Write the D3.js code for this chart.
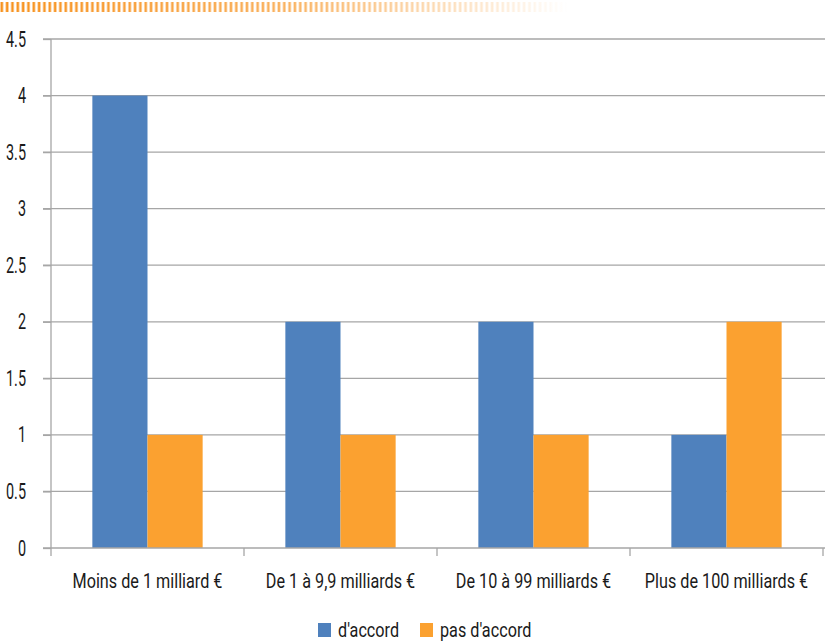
<!DOCTYPE html>
<html><head><meta charset="utf-8">
<script src="https://cdn.jsdelivr.net/npm/d3@7"></script>
<style>
body{margin:0;background:#fff;}
text{font-family:Roboto,"DejaVu Sans",sans-serif;font-weight:400;fill:#1a1a1a;}
</style></head>
<body><svg id="c" width="825" height="643"></svg>
<script>
const categories = ["Moins de 1 milliard €","De 1 à 9,9 milliards €","De 10 à 99 milliards €","Plus de 100 milliards €"];
const seriesNames = ["d'accord","pas d'accord"];
const accord = [4,2,2,1];
const pasAccord = [1,1,1,2];
const yTicks = [0,0.5,1,1.5,2,2.5,3,3.5,4,4.5];
const yTickLabels = ["0","0.5","1","1.5","2","2.5","3","3.5","4","4.5"];
const colors = ["#4F81BD","#FBA130"];

const svg = d3.select("#c");
const mL=51,mR=823,mT=39,mB=548;
const gridCol="#A6A6A6";

function measure(txt,size){
  const t=svg.append("text").attr("font-size",size).text(txt);
  const w=t.node().getComputedTextLength(); t.remove(); return w;
}
const catSize=21, tickSize=21.5;
const sqCat = 150/measure(categories[0],catSize);
const sqTick = 20/measure("4.5",tickSize);
function ctext(sel,x,y,anchor,size,sq,txt){
  return sel.append("text").attr("transform",`translate(${x},${y}) scale(${sq},1)`)
    .attr("text-anchor",anchor).attr("font-size",size).text(txt);
}

// decorative stripes at top
const defs = svg.append("defs");
const grad = defs.append("linearGradient").attr("id","fade").attr("x1","0").attr("x2","1");
grad.append("stop").attr("offset","0").attr("stop-color","#F7921E").attr("stop-opacity",1);
grad.append("stop").attr("offset","0.5").attr("stop-color","#F7921E").attr("stop-opacity",0.7);
grad.append("stop").attr("offset","1").attr("stop-color","#F7921E").attr("stop-opacity",0);
const pat = defs.append("pattern").attr("id","stripes").attr("patternUnits","userSpaceOnUse").attr("width",5.33).attr("height",20);
pat.append("rect").attr("x",0.5).attr("y",0).attr("width",2.6).attr("height",20).attr("fill","#fff");
const mask = defs.append("mask").attr("id","m");
mask.append("rect").attr("x",0).attr("y",0).attr("width",568).attr("height",14).attr("fill","url(#stripes)");
svg.append("rect").attr("x",0).attr("y",2).attr("width",568).attr("height",10).attr("fill","url(#fade)").attr("mask","url(#m)");

const x0 = d3.scaleBand().domain(categories).range([mL,mR]).paddingInner(0).paddingOuter(0);
const y = d3.scaleLinear().domain([0,4.5]).range([mB,mT]);
const bw = x0.bandwidth()/(2+1.5);
const x1 = d3.scaleBand().domain(seriesNames).range([bw*0.75, bw*0.75+2*bw]);

// gridlines
svg.append("g").selectAll("line").data(yTicks.filter(d=>d>0)).join("line")
  .attr("x1",mL-8).attr("x2",mR+2).attr("y1",d=>y(d)).attr("y2",d=>y(d))
  .attr("stroke",gridCol).attr("stroke-width",1.3);

// bars
const g = svg.append("g");
const data = categories.map((c,i)=>({c, vals:[accord[i],pasAccord[i]]}));
g.selectAll("g").data(data).join("g").attr("transform",d=>`translate(${x0(d.c)},0)`)
  .selectAll("rect").data(d=>d.vals.map((v,j)=>({v,s:seriesNames[j],j}))).join("rect")
  .attr("x",d=>x1(d.s)).attr("width",x1.bandwidth()).attr("y",d=>y(d.v)).attr("height",d=>y(0)-y(d.v))
  .attr("fill",d=>colors[d.j]);

// y axis
const yAxis = d3.axisLeft(y).tickValues(yTicks).tickFormat("").tickSize(8);
const ya = svg.append("g").attr("transform",`translate(${mL},0)`).call(yAxis);
ya.select(".domain").attr("stroke",gridCol).attr("stroke-width",1.3).attr("d",`M0,${mT}V${mB}`);
ya.selectAll(".tick line").attr("stroke",gridCol).attr("stroke-width",1.3);
const yl = svg.append("g");
yTicks.forEach((d,i)=>ctext(yl,26,y(d)+7.5,"end",tickSize,sqTick,yTickLabels[i]));

// x axis
const xa = svg.append("g").attr("transform",`translate(0,${mB})`);
xa.append("line").attr("x1",mL-8).attr("x2",mR+2).attr("y1",0).attr("y2",0).attr("stroke",gridCol).attr("stroke-width",1.3);
const bounds = categories.map(c=>x0(c)).concat([x0(categories[3])+x0.bandwidth()]);
xa.selectAll("line.t").data(bounds).join("line").attr("class","t")
  .attr("x1",d=>d).attr("x2",d=>d).attr("y1",0).attr("y2",8).attr("stroke",gridCol).attr("stroke-width",1.3);
categories.forEach(c=>ctext(xa,x0(c)+x0.bandwidth()/2,40,"middle",catSize,sqCat,c));

// legend
const leg = svg.append("g").attr("transform","translate(318,623)");
const li = leg.selectAll("g").data(seriesNames).join("g").attr("transform",(d,i)=>`translate(${i*102},0)`);
li.append("rect").attr("width",13).attr("height",14).attr("y",0).attr("fill",(d,i)=>colors[i]);
li.each(function(d){ ctext(d3.select(this),20,14,"start",catSize,sqCat,d); });
</script></body></html>
